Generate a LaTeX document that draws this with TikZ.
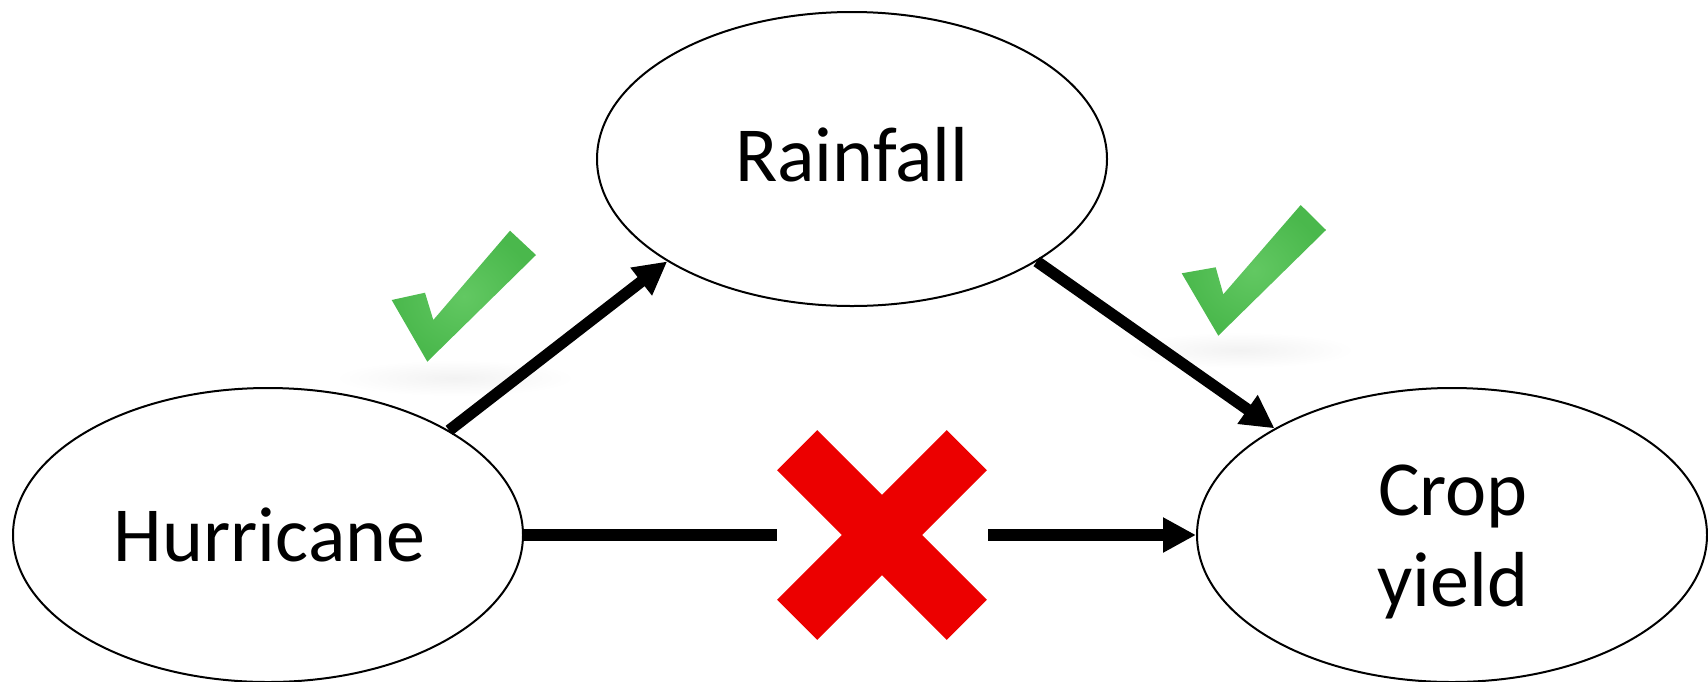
\documentclass[tikz,border=0pt]{standalone}
\usepackage{fontspec}
\setmainfont{Carlito}
\usetikzlibrary{shapes.geometric,arrows.meta}
\definecolor{ckmain}{RGB}{74,184,76}
\definecolor{cklight}{RGB}{98,200,98}
\definecolor{xred}{RGB}{236,0,0}
\tikzset{
  oval/.style={ellipse, draw=black, line width=2pt, minimum width=510pt, minimum height=294pt, inner sep=0pt},
  lbl/.style={font=\fontsize{78}{91.5}\selectfont, inner sep=0pt, align=center},
  conn/.style={line width=11.5pt, draw=black},
  arr/.style={conn, -{Triangle[length=33pt,width=33pt]}},
  tick/.style={inner color=cklight, outer color=ckmain},
  shadowblob/.style={inner color=black!5, outer color=white}
}
\begin{document}
\begin{tikzpicture}[x=1pt,y=-1pt]
\useasboundingbox (0,0) rectangle (1708,681);
% faint shadows beneath the check marks
\shade[shadowblob] (455,378) ellipse [x radius=120, y radius=18];
\shade[shadowblob] (1240,350) ellipse [x radius=115, y radius=18];
% ovals
\node[oval] (hur) at (268,535) {};
\node[oval] (rain) at (852,159) {};
\node[oval] (crop) at (1452,535) {};
% labels
\node[lbl, anchor=base] (hurT) at (269.5,561) {Hurricane};
\node[lbl, anchor=base] (rainT) at (852,181.7) {Rainfall};
\node[lbl, anchor=base] (cropT) at (1453,606.7) {Crop\\yield};
% cross
\coordinate (xc) at (882,535);
\coordinate (gapL) at (777,535);
\coordinate (gapR) at (988,535);
\fill[xred, rotate around={45:(xc)}] (762,506.7) rectangle (1002,563.3);
\fill[xred, rotate around={-45:(xc)}] (762,506.7) rectangle (1002,563.3);
% connectors
\draw[arr] (hur.30) -- (rain.209.6);
\draw[arr] (rain.-29.8) -- (crop.149.9);
\draw[conn] (hur.east) -- (gapL);
\draw[arr] (gapR) -- (crop.west);
% check marks
\shade[tick] (391.7,300) -- (425,292.7) -- (433.3,320) -- (510,230.7) -- (536,255) -- (427.3,361.7) -- cycle;
\shade[tick] (1181.7,273.3) -- (1215.7,267.3) -- (1223.3,294.3) -- (1300.7,205) -- (1326,230) -- (1218.3,335.7) -- cycle;
\end{tikzpicture}
\end{document}
